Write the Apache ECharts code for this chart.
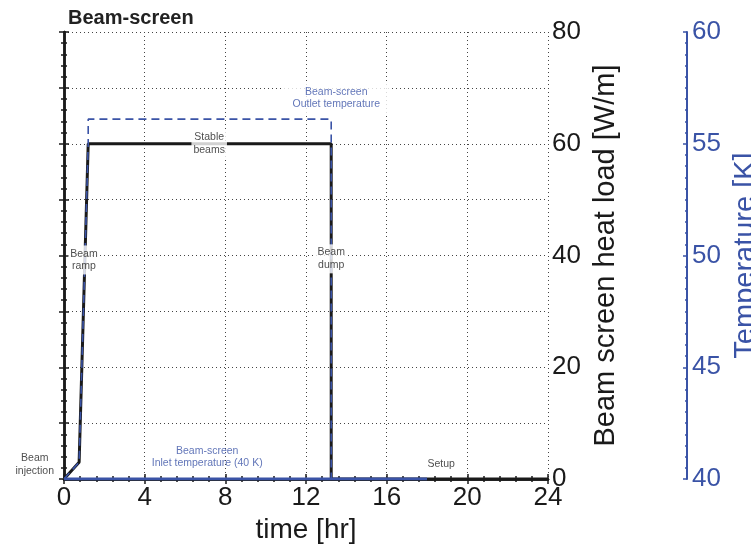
<!DOCTYPE html>
<html>
<head>
<meta charset="utf-8">
<script src="https://cdn.jsdelivr.net/npm/echarts@6/dist/echarts.min.js"></script>
<style>
  html, body { margin: 0; padding: 0; background: #fff; }
  #chart { width: 751px; height: 546px; }
</style>
</head>
<body>
<div id="chart"></div>
<script>
// Time in hours, heat load in W/m, temperatures in K
const heatLoadTime = [0, 0.75, 1.2, 13.25, 13.25, 24];
const heatLoad     = [0, 3, 60, 60, 0, 0];

const outletTime = [0, 0.75, 1.2, 1.2, 13.25, 13.25];
const outletTemp = [40, 40.75, 55, 56.1, 56.1, 40];

const inletTime = [0, 18];
const inletTemp = [40, 40];

const heatLoadTicks = [0, 20, 40, 60, 80];
const tempTicks = [40, 45, 50, 55, 60];
const timeTicks = [0, 4, 8, 12, 16, 20, 24];

// Annotations: [time, heat load, text, colour key, white box padding]
const notes = [
  [-1.45, 2.6, 'Beam\ninjection', 'k', null],
  [0.99, 39.2, 'Beam\nramp', 'k', [2, 2]],
  [7.2, 60, 'Stable\nbeams', 'k', [2, 2]],
  [13.25, 39.4, 'Beam\ndump', 'k', [2, 2]],
  [18.7, 2.6, 'Setup', 'k', null],
  [13.5, 68.2, 'Beam-screen\nOutlet temperature', 'b', [3, 9]],
  [7.1, 3.9, 'Beam-screen\nInlet temperature (40 K)', 'b', null]
];

const BLUE = '#3a53a6';
const INK = '#1a1a1a';
const FONT = '"Liberation Sans", Arial, Helvetica, sans-serif';

const zip = (xs, ys) => xs.map((x, i) => [x, ys[i]]);

const chart = echarts.init(document.getElementById('chart'), null, { renderer: 'canvas' });

// Dotted grid and the inward ticks of the plot frame
const dotted = { type: [1, 3], color: '#444', width: 1 };
const frameTick = () => ({ show: true, inside: true, length: 5, lineStyle: { color: INK, width: 1.5 } });
const frameMinor = () => ({ show: true, splitNumber: 5, length: 3, lineStyle: { color: INK, width: 1.5 } });

chart.setOption({
  animation: false,
  backgroundColor: '#fff',
  textStyle: { fontFamily: FONT },
  title: {
    text: 'Beam-screen',
    left: 63, top: 3,
    textStyle: { fontFamily: FONT, fontSize: 20, fontWeight: 'bold', color: '#222' }
  },
  grid: { left: 64, right: 203, top: 32, bottom: 67, containLabel: false, outerBoundsMode: 'none' },
  xAxis: [
    {
      type: 'value', position: 'bottom', min: timeTicks[0], max: timeTicks[timeTicks.length - 1],
      interval: timeTicks[1] - timeTicks[0],
      name: 'time [hr]', nameLocation: 'middle', nameGap: 27,
      nameTextStyle: { fontFamily: FONT, fontSize: 28, color: INK },
      axisLine: { show: true, lineStyle: { color: INK, width: 2.5 } },
      axisTick: frameTick(),
      minorTick: frameMinor(),
      axisLabel: { fontFamily: FONT, fontSize: 26, color: INK, margin: 6 },
      splitLine: { show: true, lineStyle: dotted }
    },
    {
      type: 'value', position: 'top', min: 0, max: 24, interval: 4,
      axisLine: { show: true, lineStyle: { color: INK, width: 2.5 } },
      axisTick: frameTick(),
      minorTick: frameMinor(),
      axisLabel: { show: false },
      splitLine: { show: false }
    }
  ],
  yAxis: [
    {
      type: 'value', position: 'right', min: heatLoadTicks[0], max: heatLoadTicks[heatLoadTicks.length - 1],
      interval: 10,
      name: 'Beam screen heat load [W/m]', nameLocation: 'middle', nameGap: 36, nameRotate: 90,
      nameTextStyle: { fontFamily: FONT, fontSize: 29, color: INK },
      axisLine: { show: true, lineStyle: { color: INK, width: 2.5 } },
      axisTick: frameTick(),
      minorTick: frameMinor(),
      axisLabel: {
        fontFamily: FONT, fontSize: 26, color: INK, margin: 4,
        formatter: v => (heatLoadTicks.includes(v) ? String(v) : '')
      },
      splitLine: { show: true, lineStyle: dotted }
    },
    {
      type: 'value', position: 'left', min: 0, max: 80, interval: 10,
      axisLine: { show: true, lineStyle: { color: INK, width: 2.5 } },
      axisTick: frameTick(),
      minorTick: frameMinor(),
      axisLabel: { show: false },
      splitLine: { show: false }
    },
    {
      type: 'value', position: 'right', offset: 139,
      min: tempTicks[0], max: tempTicks[tempTicks.length - 1], interval: tempTicks[1] - tempTicks[0],
      name: 'Temperature [K]', nameLocation: 'middle', nameGap: 37, nameRotate: 90,
      nameTextStyle: { fontFamily: FONT, fontSize: 29, color: BLUE },
      axisLine: { show: true, lineStyle: { color: BLUE, width: 2 } },
      axisTick: { show: true, inside: true, length: 4, lineStyle: { color: BLUE, width: 1.5 } },
      minorTick: { show: true, splitNumber: 10, length: 2, lineStyle: { color: BLUE, width: 1.5 } },
      axisLabel: { fontFamily: FONT, fontSize: 26, color: BLUE, margin: 5 },
      splitLine: { show: false }
    }
  ],
  series: [
    {
      name: 'Heat load', type: 'line', xAxisIndex: 0, yAxisIndex: 0,
      data: zip(heatLoadTime, heatLoad), symbol: 'none', z: 3,
      lineStyle: { color: INK, width: 3 }
    },
    {
      name: 'Inlet temperature', type: 'line', xAxisIndex: 0, yAxisIndex: 2,
      data: zip(inletTime, inletTemp), symbol: 'none', z: 4,
      lineStyle: { color: BLUE, width: 3 }
    },
    {
      name: 'Outlet temperature', type: 'line', xAxisIndex: 0, yAxisIndex: 2,
      data: zip(outletTime, outletTemp), symbol: 'none', z: 5,
      lineStyle: { color: BLUE, width: 1.6, type: [8, 5] }
    },
    {
      name: 'Notes', type: 'scatter', xAxisIndex: 0, yAxisIndex: 0, z: 6,
      clip: false, silent: true,
      symbol: 'circle', symbolSize: 1,
      itemStyle: { color: 'rgba(0,0,0,0)' },
      data: notes.map(n => ({
        value: [n[0], n[1]],
        label: {
          show: true, position: 'inside', formatter: n[2],
          fontFamily: FONT, fontSize: 10.5, lineHeight: 12.5,
          color: n[3] === 'b' ? BLUE : '#222', align: 'center',
          backgroundColor: n[4] ? '#fff' : 'transparent',
          padding: n[4] || 0
        }
      }))
    }
  ]
});
</script>
</body>
</html>
